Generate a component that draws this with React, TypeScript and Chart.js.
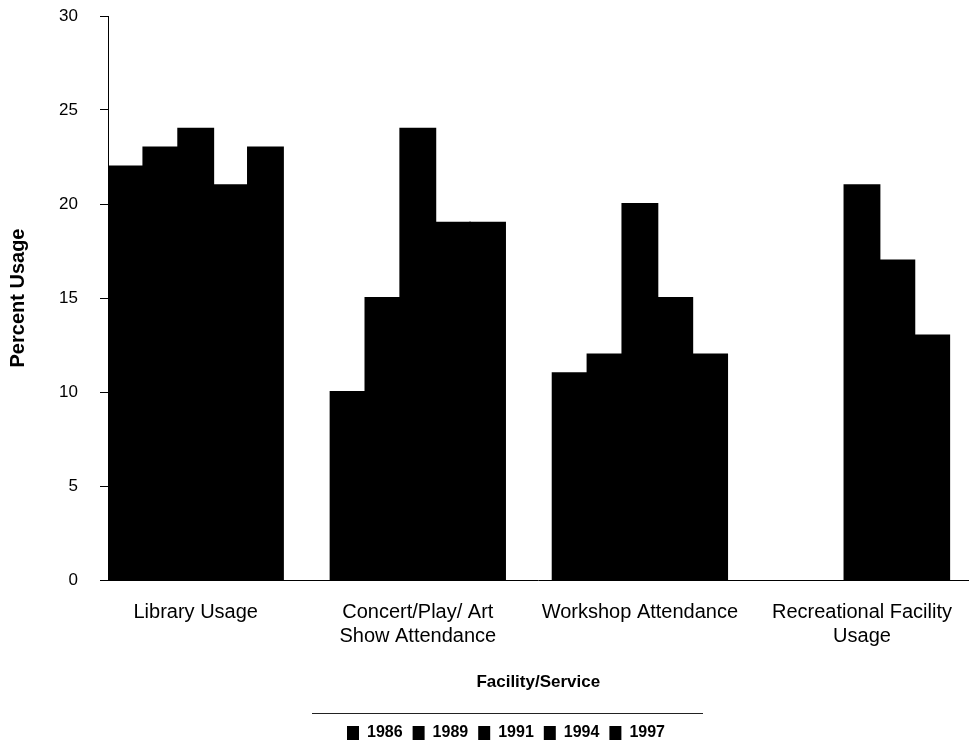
import React, { useEffect, useRef } from 'react';
import { Chart, registerables } from 'chart.js';

Chart.register(...registerables);

const categories: string[][] = [
  ['Library Usage'],
  ['Concert/Play/ Art', 'Show Attendance'],
  ['Workshop Attendance'],
  ['Recreational Facility', 'Usage'],
];
const years = ['1986', '1989', '1991', '1994', '1997'];
const usage1986 = [22, 10, 11, null];
const usage1989 = [23, 15, 12, null];
const usage1991 = [24, 24, 20, 21];
const usage1994 = [21, 19, 15, 17];
const usage1997 = [23, 19, 12, 13];
const seriesValues = [usage1986, usage1989, usage1991, usage1994, usage1997];
const yMin = 0;
const yMax = 30;
const yStep = 5;
const xMin = -0.395;
const xMax = 3.48;

const legendRule = {
  id: 'legendRule',
  afterDraw(chart: any) {
    const lg = chart.legend;
    if (!lg || !lg.legendHitBoxes || !lg.legendHitBoxes.length) return;
    const hb = lg.legendHitBoxes;
    const last = hb[hb.length - 1];
    const ctx = chart.ctx;
    ctx.save();
    ctx.strokeStyle = '#222';
    ctx.lineWidth = 1;
    ctx.beginPath();
    ctx.moveTo(hb[0].left - 35, lg.top - 1.5);
    ctx.lineTo(last.left + last.width + 38, lg.top - 1.5);
    ctx.stroke();
    ctx.restore();
  },
};

export default function App() {
  const ref = useRef<HTMLCanvasElement>(null);
  useEffect(() => {
    if (!ref.current) return;
    Chart.defaults.font.family = '"Liberation Sans", Arial, sans-serif';
    const chart = new Chart(ref.current, {
      type: 'bar',
      data: {
        datasets: years.map((yr, k) => ({
          label: yr,
          data: seriesValues[k].map((v, i) => ({ x: i, y: v })) as any,
          backgroundColor: '#000',
          borderWidth: 0,
          inflateAmount: 1,
          barPercentage: 1,
          categoryPercentage: 0.785,
        })),
      },
      options: {
        responsive: false,
        animation: false,
        events: [],
        layout: { padding: { top: 0, left: 40, right: 0, bottom: 0 } },
        plugins: {
          tooltip: { enabled: false },
          legend: {
            position: 'bottom',
            labels: {
              boxWidth: 12,
              boxHeight: 14,
              padding: 10,
              color: '#000',
              font: { size: 16, weight: 'bold' },
            },
          },
        },
        scales: {
          x: {
            type: 'linear',
            min: xMin,
            max: xMax,
            offset: false,
            grid: { display: false, drawTicks: false },
            border: { display: true, color: '#000', width: 1 },
            afterBuildTicks: (s: any) => {
              s.ticks = categories.map((_, i) => ({ value: i }));
            },
            afterFit: (s: any) => {
              s.height = 135;
            },
            ticks: {
              autoSkip: false,
              maxRotation: 0,
              minRotation: 0,
              padding: 20,
              color: '#000',
              font: { size: 20, lineHeight: 1.2 },
              callback: (v: any) => categories[v] ?? '',
            },
            title: {
              display: true,
              text: 'Facility/Service',
              color: '#000',
              font: { size: 17, weight: 'bold' },
              padding: { top: 0, bottom: 22 },
            },
          },
          y: {
            min: yMin,
            max: yMax,
            grid: {
              display: true,
              drawOnChartArea: false,
              drawTicks: true,
              tickLength: 8,
              color: '#000',
            },
            border: { display: true, color: '#000', width: 1 },
            afterFit: (s: any) => {
              s.width = 68;
              s.paddingTop = 16;
            },
            ticks: {
              stepSize: yStep,
              padding: 22,
              color: '#000',
              font: { size: 17 },
            },
            title: {
              display: true,
              text: 'Percent Usage',
              color: '#000',
              font: { size: 20, weight: 'bold' },
              padding: { top: -34, bottom: 0 },
            },
          },
        },
      },
      plugins: [legendRule],
    });
    return () => chart.destroy();
  }, []);
  return (
    <div style={{ position: 'fixed', left: 0, top: 0, width: 972, height: 751, background: '#fff' }}>
      <canvas ref={ref} width={972} height={751} style={{ display: 'block' }} />
    </div>
  );
}
